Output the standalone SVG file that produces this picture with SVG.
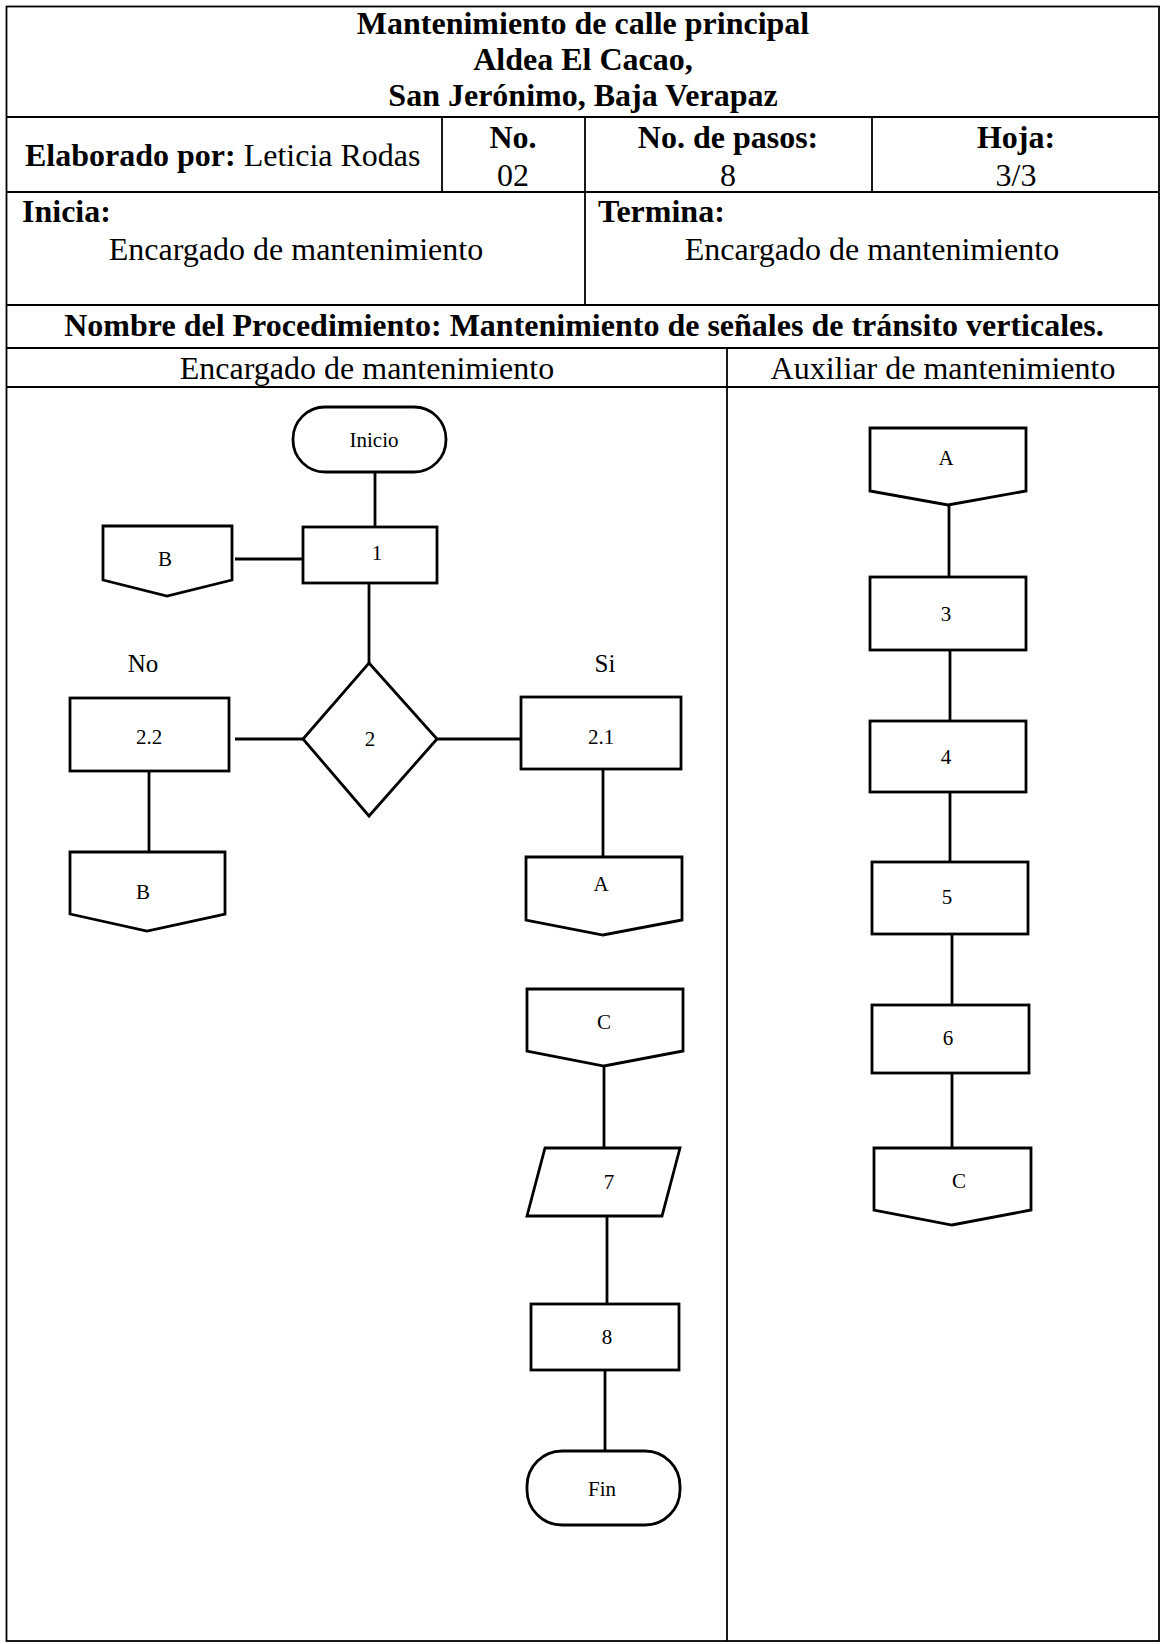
<svg xmlns="http://www.w3.org/2000/svg" width="1163" height="1644" viewBox="0 0 1163 1644">
<style>
  .tbl { stroke: #000; stroke-width: 1.8; fill: none; }
  .shape { stroke: #000; stroke-width: 2.8; fill: #fff; stroke-linejoin: miter; }
  .conn { stroke: #000; stroke-width: 2.8; fill: none; }
  .h { font-family: "Liberation Serif", "Times New Roman", serif; font-size: 32px; fill: #000; }
  .b { font-weight: bold; }
  .c { text-anchor: middle; }
  .lbl { font-family: "Liberation Serif", "Times New Roman", serif; font-size: 21px; fill: #000; text-anchor: middle; }
  .yn { font-family: "Liberation Serif", "Times New Roman", serif; font-size: 25px; fill: #000; text-anchor: middle; }
</style>
<rect width="1163" height="1644" fill="#fff"/>

<g id="table">
  <rect class="tbl" x="6.5" y="6.5" width="1152.5" height="1634.5"/>
  <line class="tbl" x1="6.5" y1="117" x2="1159" y2="117"/>
  <line class="tbl" x1="6.5" y1="192" x2="1159" y2="192"/>
  <line class="tbl" x1="6.5" y1="305" x2="1159" y2="305"/>
  <line class="tbl" x1="6.5" y1="348" x2="1159" y2="348"/>
  <line class="tbl" x1="6.5" y1="387" x2="1159" y2="387"/>
  <line class="tbl" x1="442" y1="117" x2="442" y2="192"/>
  <line class="tbl" x1="585" y1="117" x2="585" y2="305"/>
  <line class="tbl" x1="872" y1="117" x2="872" y2="192"/>
  <line class="tbl" x1="727" y1="348" x2="727" y2="1641"/>

  <text class="h b c" x="583" y="34">Mantenimiento de calle principal</text>
  <text class="h b c" x="583" y="70">Aldea El Cacao,</text>
  <text class="h b c" x="583" y="106">San Jerónimo, Baja Verapaz</text>

  <text class="h" x="25" y="166"><tspan class="b">Elaborado por:</tspan> Leticia Rodas</text>
  <text class="h b c" x="513" y="148">No.</text>
  <text class="h c" x="513" y="186">02</text>
  <text class="h b c" x="728" y="148">No. de pasos:</text>
  <text class="h c" x="728" y="186">8</text>
  <text class="h b c" x="1016" y="148">Hoja:</text>
  <text class="h c" x="1016" y="186">3/3</text>

  <text class="h b" x="22" y="222">Inicia:</text>
  <text class="h c" x="296" y="260">Encargado de mantenimiento</text>
  <text class="h b" x="598" y="222">Termina:</text>
  <text class="h c" x="872" y="260">Encargado de mantenimiento</text>

  <text class="h b c" x="584" y="336">Nombre del Procedimiento: Mantenimiento de señales de tránsito verticales.</text>
  <text class="h c" x="367" y="379">Encargado de mantenimiento</text>
  <text class="h c" x="943" y="379">Auxiliar de mantenimiento</text>
</g>

<g id="connectors">
  <line class="conn" x1="375" y1="472" x2="375" y2="527"/>
  <line class="conn" x1="235" y1="559" x2="303" y2="559"/>
  <line class="conn" x1="369" y1="583" x2="369" y2="663"/>
  <line class="conn" x1="235" y1="739" x2="303" y2="739"/>
  <line class="conn" x1="437" y1="739" x2="521" y2="739"/>
  <line class="conn" x1="149" y1="771" x2="149" y2="852"/>
  <line class="conn" x1="603" y1="769" x2="603" y2="857"/>
  <line class="conn" x1="604" y1="1066" x2="604" y2="1148"/>
  <line class="conn" x1="607" y1="1216" x2="607" y2="1304"/>
  <line class="conn" x1="605" y1="1370" x2="605" y2="1451"/>
  <line class="conn" x1="949" y1="505" x2="949" y2="577"/>
  <line class="conn" x1="950" y1="650" x2="950" y2="721"/>
  <line class="conn" x1="950" y1="792" x2="950" y2="862"/>
  <line class="conn" x1="952" y1="934" x2="952" y2="1005"/>
  <line class="conn" x1="952" y1="1073" x2="952" y2="1148"/>
</g>

<g id="inicio">
  <rect class="shape" x="293" y="407" width="153" height="65" rx="32" ry="32"/>
  <text class="lbl" x="374" y="447">Inicio</text>
</g>
<g id="paso1">
  <rect class="shape" x="303" y="527" width="134" height="56"/>
  <text class="lbl" x="377" y="560">1</text>
</g>
<g id="conector-b1">
  <path class="shape" d="M103,526 L232,526 L232,580 L167,596 L103,580 Z"/>
  <text class="lbl" x="165" y="566">B</text>
</g>
<g id="decision2">
  <path class="shape" d="M369,663 L437,739 L369,816 L303,739 Z"/>
  <text class="lbl" x="370" y="746">2</text>
</g>
<g id="label-no">
  <text class="yn" x="143" y="672">No</text>
</g>
<g id="label-si">
  <text class="yn" x="605" y="672">Si</text>
</g>
<g id="paso22">
  <rect class="shape" x="70" y="698" width="159" height="73"/>
  <text class="lbl" x="149" y="744">2.2</text>
</g>
<g id="paso21">
  <rect class="shape" x="521" y="697" width="160" height="72"/>
  <text class="lbl" x="601" y="744">2.1</text>
</g>
<g id="conector-b2">
  <path class="shape" d="M70,852 L225,852 L225,914 L147,931 L70,914 Z"/>
  <text class="lbl" x="143" y="899">B</text>
</g>
<g id="conector-a1">
  <path class="shape" d="M526,857 L682,857 L682,920 L603,935 L526,920 Z"/>
  <text class="lbl" x="601" y="891">A</text>
</g>
<g id="conector-c1">
  <path class="shape" d="M527,989 L683,989 L683,1051 L604,1066 L527,1051 Z"/>
  <text class="lbl" x="604" y="1029">C</text>
</g>
<g id="paso7">
  <path class="shape" d="M545,1148 L680,1148 L662,1216 L527,1216 Z"/>
  <text class="lbl" x="609" y="1189">7</text>
</g>
<g id="paso8">
  <rect class="shape" x="531" y="1304" width="148" height="66"/>
  <text class="lbl" x="607" y="1344">8</text>
</g>
<g id="fin">
  <rect class="shape" x="527" y="1451" width="153" height="74" rx="35" ry="35"/>
  <text class="lbl" x="602" y="1496">Fin</text>
</g>

<g id="conector-a2">
  <path class="shape" d="M870,428 L1026,428 L1026,491 L948,505 L870,491 Z"/>
  <text class="lbl" x="946" y="465">A</text>
</g>
<g id="paso3">
  <rect class="shape" x="870" y="577" width="156" height="73"/>
  <text class="lbl" x="946" y="621">3</text>
</g>
<g id="paso4">
  <rect class="shape" x="870" y="721" width="156" height="71"/>
  <text class="lbl" x="946" y="764">4</text>
</g>
<g id="paso5">
  <rect class="shape" x="872" y="862" width="156" height="72"/>
  <text class="lbl" x="947" y="904">5</text>
</g>
<g id="paso6">
  <rect class="shape" x="872" y="1005" width="157" height="68"/>
  <text class="lbl" x="948" y="1045">6</text>
</g>
<g id="conector-c2">
  <path class="shape" d="M874,1148 L1031,1148 L1031,1210 L952,1225 L874,1210 Z"/>
  <text class="lbl" x="959" y="1188">C</text>
</g>
</svg>
